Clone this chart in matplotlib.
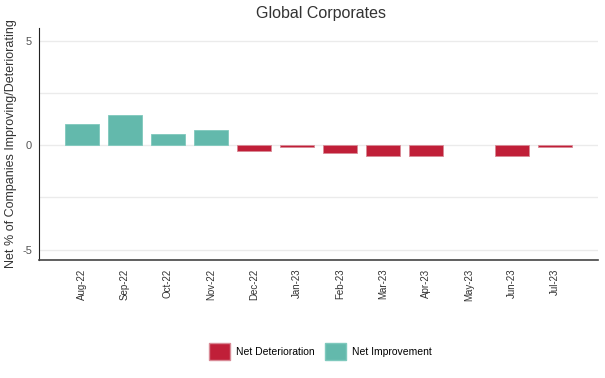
import matplotlib
matplotlib.use("Agg")
import matplotlib.pyplot as plt
from matplotlib.patches import Patch

months = ["Aug-22", "Sep-22", "Oct-22", "Nov-22", "Dec-22", "Jan-23",
          "Feb-23", "Mar-23", "Apr-23", "May-23", "Jun-23", "Jul-23"]
net_values = [1.0, 1.43, 0.53, 0.72, -0.29, -0.08, -0.38, -0.5, -0.5, 0.0, -0.5, -0.08]

red = "#C01F38"
teal = "#63B9AC"

plt.rcParams['font.family'] = ['Liberation Sans', 'DejaVu Sans']

fig = plt.figure(figsize=(6.05, 3.78), dpi=100)
ax = fig.add_axes([0.0645, 0.312, 0.9235, 0.614])

x = list(range(len(months)))
colors = [teal if v > 0 else red for v in net_values]
edges = ["#7fc9bd" if v > 0 else "#d98a96" for v in net_values]
lws = [0.6 if v != 0 else 0 for v in net_values]
ax.bar(x, net_values, width=0.8, color=colors, edgecolor=edges, linewidth=lws, zorder=3)

ax.set_xlim(-1, 12)
ax.set_ylim(-5.5, 5.6)
ax.set_yticks([-5, 0, 5])
ax.set_yticks([-2.5, 2.5], minor=True)
ax.set_yticklabels(["-5", "0", "5"], color="#555555", fontsize=8)
ax.set_xticks(x)
ax.set_xticklabels(months, rotation=90, fontsize=7, color="#333333")
ax.tick_params(axis='both', which='both', length=0, pad=6)
ax.tick_params(axis='y', pad=5)
ax.grid(axis='y', which='both', color="#ebebeb", linewidth=1.0, zorder=0)

for s in ["top", "right"]:
    ax.spines[s].set_visible(False)
ax.spines["left"].set_color("#222222")
ax.spines["bottom"].set_color("#444444")
ax.spines["bottom"].set_linewidth(1.2)

ax.set_ylabel("Net % of Companies Improving/Deteriorating", fontsize=9, color="#333333", labelpad=4)
fig.suptitle("Global Corporates", x=0.53, y=0.985, fontsize=11.5, color="#333333")

handles = [Patch(facecolor=red, edgecolor="#d98a96", label="Net Deterioration"),
           Patch(facecolor=teal, edgecolor="#7fc9bd", label="Net Improvement")]
fig.legend(handles=handles, loc="center", bbox_to_anchor=(0.53, 0.07), ncol=2,
           frameon=False, fontsize=7.5, handlelength=2.0, handleheight=2.0,
           columnspacing=1.0, handletextpad=0.6)

fig.savefig("out.png", dpi=100)
